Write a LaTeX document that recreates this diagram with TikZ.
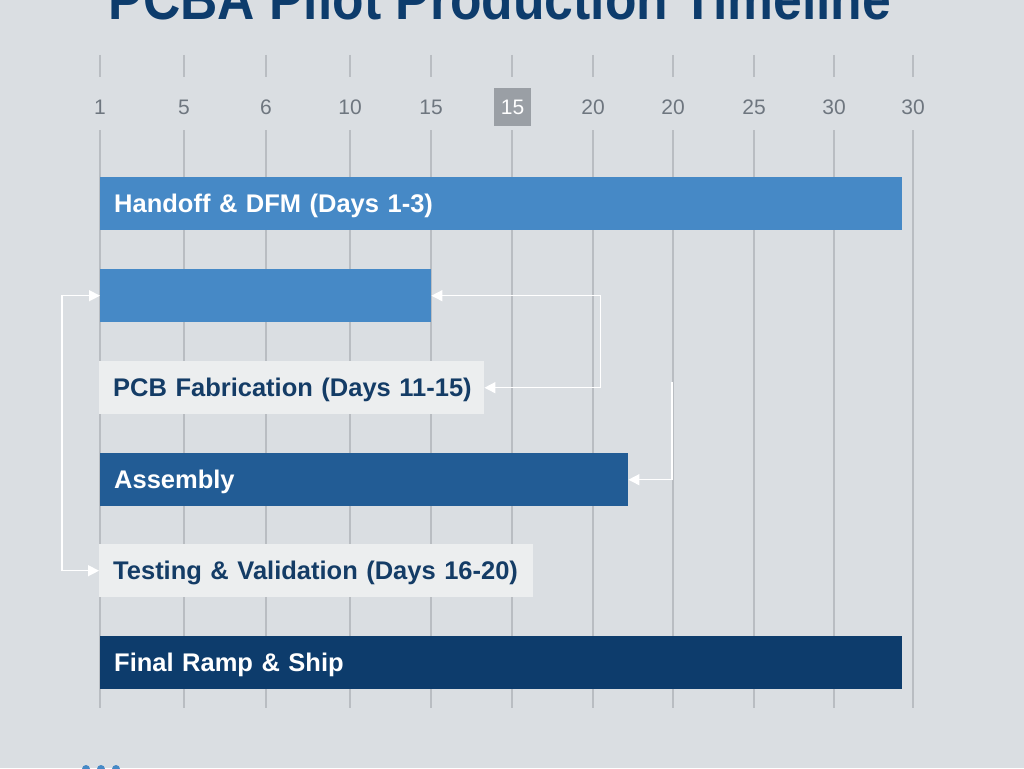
\documentclass[tikz,border=0pt]{standalone}
\usepackage{fontspec}
\setmainfont{Liberation Sans}
\usetikzlibrary{arrows.meta}
\definecolor{bg}{HTML}{DADEE2}
\definecolor{grid}{HTML}{B9BDC2}
\definecolor{lblue}{HTML}{4689C6}
\definecolor{mblue}{HTML}{225C95}
\definecolor{dblue}{HTML}{0D3C6C}
\definecolor{lbox}{HTML}{ECEEEF}
\definecolor{navy}{HTML}{143C66}
\definecolor{axis}{HTML}{6E767F}
\definecolor{hl}{HTML}{9A9FA5}
\tikzset{
  gridline/.style={draw=grid, line width=1.3pt},
  axlabel/.style={text=axis, font=\fontsize{21}{23}\selectfont, inner sep=0pt},
  bar/.style={anchor=north west, minimum height=53pt, inner xsep=14pt, inner ysep=0pt, align=left,
     text height=22pt, text depth=4pt, font=\fontsize{25.5}{28}\selectfont\bfseries},
  solidbar/.style={bar, text=white},
  lightbar/.style={bar, fill=lbox, text=navy},
  arr/.style={draw=white, line width=1.4pt, -{Triangle[length=11pt,width=11pt]}},
  arrb/.style={draw=white, line width=1.4pt, {Triangle[length=11pt,width=11pt]}-{Triangle[length=11pt,width=11pt]}},
}
\begin{document}
\begin{tikzpicture}[x=1pt,y=-1pt]
\useasboundingbox (0,0) rectangle (1024,768);
\fill[bg] (0,0) rectangle (1024,768);
% title
\node[text=dblue, font=\fontsize{58}{60}\selectfont\bfseries, anchor=base, inner sep=0pt] (title) at (500,20) {\scalebox{0.89}[1]{PCBA Pilot Production Timeline}};
% grid
\foreach \x/\l [count=\i] in {100/1,184/5,266/6,350/10,431/15,512/15,593/20,673/20,754/25,834/30,913/30}{
  \draw[gridline] (\x,55) -- (\x,77);
  \draw[gridline] (\x,130) -- (\x,708);
  \ifnum\i=6
    \node[fill=hl, minimum width=37pt, minimum height=38pt, inner sep=0pt] (hlbox) at (512.5,107) {};
    \node[axlabel, text=white] (ax\i) at (512.5,107) {\l};
  \else
    \node[axlabel] (ax\i) at (\x,107) {\l};
  \fi
}
% bars
\node[solidbar, fill=lblue, minimum width=802pt, text width=774pt] (b1) at (100,177) {\mbox{Handoff \& DFM (Days 1-3)}};
\node[solidbar, fill=lblue, minimum width=331pt, text width=303pt] (b2) at (100,269) {};
\node[lightbar, minimum width=385pt, text width=357pt] (pcb) at (99,361) {\mbox{PCB Fabrication (Days 11-15)}};
\node[solidbar, fill=mblue, minimum width=528pt, text width=500pt] (asm) at (100,453) {\mbox{Assembly}};
\node[lightbar, minimum width=434pt, text width=406pt] (test) at (99,544) {\mbox{Testing \& Validation (Days 16-20)}};
\node[solidbar, fill=dblue, minimum width=802pt, text width=774pt] (fin) at (100,636) {\mbox{Final Ramp \& Ship}};
% connectors
\draw[arrb] (b2.east) -- ++(169,0) |- (pcb.east);
\coordinate (free) at (672,382);
\draw[arr] (free) |- (asm.east);
\draw[arrb] (b2.west) -- ++(-38,0) |- (test.west);
% dots
\foreach \x in {86,101,116}{\fill[lblue] (\x,769) circle (4pt);}
\end{tikzpicture}
\end{document}
